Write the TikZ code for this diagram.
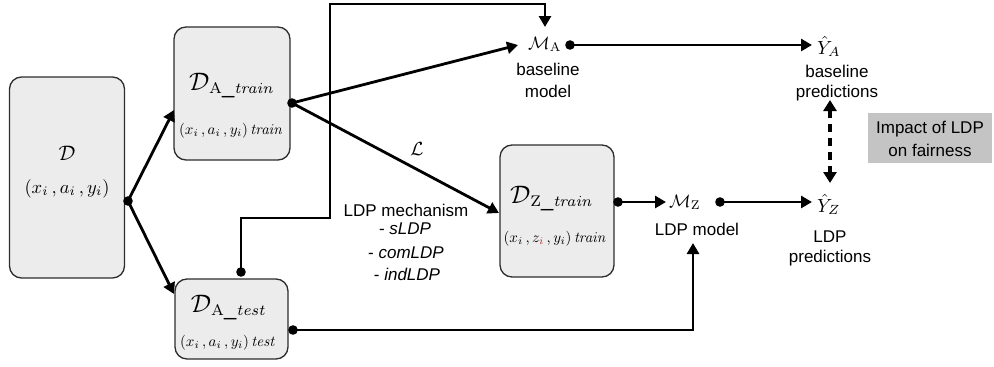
\documentclass[tikz,border=0pt]{standalone}
\usepackage[no-math]{fontspec}
\usepackage{graphicx}
\setmainfont{Liberation Sans}
\usetikzlibrary{arrows.meta}
\definecolor{boxfill}{RGB}{236,236,236}
\definecolor{boxline}{RGB}{45,45,45}
\definecolor{impactfill}{RGB}{196,196,196}
\definecolor{zred}{RGB}{190,40,40}
\newcommand{\mysc}[2]{\scalebox{#1}{$#2$}}
\newcommand{\bigD}{\mbox{\scalebox{1.15}{$\mathcal{D}$}}}
\begin{document}
\begin{tikzpicture}[x=1pt,y=-1pt,
  dbox/.style={draw=boxline, fill=boxfill, line width=1.3pt, rounded corners=12pt, inner sep=0pt},
  conn/.style={line width=2.8pt, -{Triangle[length=11pt,width=12pt]}},
  lbl/.style={font=\fontsize{17}{21}\selectfont, inner sep=0pt, anchor=base},
  mth/.style={font=\fontsize{10}{12}\selectfont, inner sep=0pt, anchor=base},
  mthw/.style={font=\fontsize{10}{12}\selectfont, inner sep=0pt, anchor=base west}
]
\useasboundingbox (0,0) rectangle (994,367);

% boxes
\node[dbox, minimum width=115, minimum height=201] (D) at (67,177.5) {};
\node[mth] (Dt) at (67,160) {\mysc{2.1}{\mathcal{D}}};
\node[mth] (Dv) at (67,193) {\mysc{1.85}{(x_i\,, a_i\,,y_i)}};

\node[dbox, minimum width=116, minimum height=133] (DAtr) at (232,93.5) {};
\node[mth] (DAtrt) at (232,90) {\mysc{2.2}{\bigD_{\mathrm{A}\_\mathit{train}}}};
\node[mth] (DAtrv) at (231,134) {\mysc{1.5}{(x_i\,, a_i\,,y_i)\,\mathit{train}}};

\node[dbox, minimum width=113, minimum height=80] (DAte) at (231.5,319) {};
\node[mth] (DAtet) at (229,312) {\mysc{2.2}{\bigD_{\mathrm{A}\_\mathit{test}}}};
\node[mth] (DAtev) at (228,346) {\mysc{1.5}{(x_i\,, a_i\,,y_i)\,\mathit{test}}};

\node[dbox, minimum width=114, minimum height=132] (DZ) at (557,211) {};
\node[mth] (DZt) at (552,203) {\mysc{2.2}{\bigD_{\mathrm{Z}\_\mathit{train}}}};
\node[mth] (DZv) at (555,242) {\mysc{1.5}{(x_i\,, z_{\textcolor{zred}{i}}\,,y_i)\,\mathit{train}}};

% models and predictions
\node[mthw] (MA) at (528,49) {\mysc{1.8}{\mathcal{M}_{\mathrm{A}}}};
\node[lbl] (MAl1) at (548,75) {baseline};
\node[lbl] (MAl2) at (548,97) {model};

\node[mthw] (MZ) at (669,207) {\mysc{1.8}{\mathcal{M}_{\mathrm{Z}}}};
\node[lbl] (MZl) at (697,235) {LDP model};

\node[mthw] (YA) at (817,54) {\mysc{1.9}{\hat{Y}_A}};
\node[lbl] (YAl1) at (837,77) {baseline};
\node[lbl] (YAl2) at (837,97) {predictions};

\node[mthw] (YZ) at (817,212) {\mysc{1.9}{\hat{Y}_Z}};
\node[lbl] (YZl1) at (830,242) {LDP};
\node[lbl] (YZl2) at (830,262) {predictions};

\node[fill=impactfill, minimum width=124, minimum height=50, inner sep=0pt] (IMP) at (930,138) {};
\node[lbl] (IMP1) at (930,133) {Impact of LDP};
\node[lbl] (IMP2) at (930,156) {on fairness};

% LDP mechanism label
\node[mth] (L) at (417,155) {\mysc{1.9}{\mathcal{L}}};
\node[lbl] (mech) at (406,216) {LDP mechanism};
\node[lbl] (m1) at (405,234) {- \textit{sLDP}};
\node[lbl] (m2) at (406,258) {- \textit{comLDP}};
\node[lbl] (m3) at (407,280) {- \textit{indLDP}};

% dots
\coordinate (dD) at (128,201);
\coordinate (dAtr) at (292,103);
\coordinate (dAteT) at (241,272);
\coordinate (dAteR) at (293,330);
\coordinate (dZ) at (618,202);
\coordinate (dMA) at (570,45);
\coordinate (dMZ) at (720,202);
\foreach \c in {dD,dAtr,dAteT,dAteR,dZ,dMA,dMZ} \fill (\c) circle (4.8pt);

% tip points
\coordinate (tAtr) at (174,110);
\coordinate (tAte) at (174,294);
\coordinate (tMAl) at (518,45);
\coordinate (tMAt) at (545,27);
\coordinate (tDZ) at (499,213);
\coordinate (tMZl) at (666,202);
\coordinate (tMZb) at (693,243);
\coordinate (tYA) at (812,45);
\coordinate (tYZ) at (812,202);
\coordinate (c1) at (241,218);
\coordinate (c2) at (330,218);
\coordinate (c3) at (330,4);
\coordinate (c4) at (545,4);
\coordinate (c5) at (693,330);
\coordinate (dA) at (830,100);
\coordinate (dB) at (830,183);

% connectors
\draw[conn] (dD) -- (tAtr);
\draw[conn] (dD) -- (tAte);
\draw[conn] (dAtr) -- (tMAl);
\draw[conn] (dAtr) -- (tDZ);
\draw[conn] (dAteT) -- (c1) -- (c2) -- (c3) -- (c4) -- (tMAt);
\draw[conn] (dAteR) -- (c5) -- (tMZb);
\draw[conn] (dZ) -- (tMZl);
\draw[conn] (dMA) -- (tYA);
\draw[conn] (dMZ) -- (tYZ);
\draw[line width=3.6pt, dash pattern=on 8pt off 6pt, {Triangle[length=11pt,width=13pt]}-{Triangle[length=11pt,width=13pt]}] (dA) -- (dB);
\end{tikzpicture}
\end{document}
